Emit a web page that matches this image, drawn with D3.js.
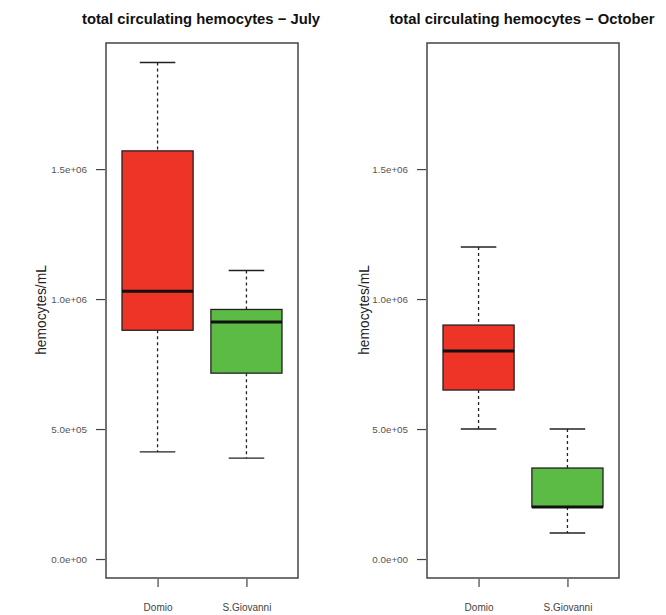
<!DOCTYPE html>
<html><head><meta charset="utf-8">
<script src="https://cdn.jsdelivr.net/npm/d3@7"></script>
<style>body{margin:0;background:#fff}svg{display:block}</style>
</head><body><svg id="c" width="666" height="615"></svg>
<script>
const categories = ["Domio", "S.Giovanni"];
const boxColors = ["#ee3427", "#5cbb44"];
// July
const julyMin = [4.12e5, 3.88e5];
const julyQ1 = [8.8e5, 7.15e5];
const julyMedian = [1.03e6, 9.12e5];
const julyQ3 = [1.57e6, 9.6e5];
const julyMax = [1.91e6, 1.11e6];
// October
const octMin = [5.0e5, 1.0e5];
const octQ1 = [6.5e5, 2.0e5];
const octMedian = [8.0e5, 2.0e5];
const octQ3 = [9.0e5, 3.5e5];
const octMax = [1.2e6, 5.0e5];

const yTicks = [0, 5e5, 1e6, 1.5e6];
const yTickLabels = ["0.0e+00", "5.0e+05", "1.0e+06", "1.5e+06"];
const titles = ["total circulating hemocytes \u2212 July", "total circulating hemocytes \u2212 October"];
const yTitle = "hemocytes/mL";

const svg = d3.select("#c");
const font = "'Liberation Sans', Arial, Helvetica, sans-serif";

const panels = [
  {left: 106, right: 298, titleX: 201, yTitleX: 46, title: titles[0],
   mn: julyMin, q1: julyQ1, md: julyMedian, q3: julyQ3, mx: julyMax},
  {left: 427, right: 619, titleX: 522, yTitleX: 369, title: titles[1],
   mn: octMin, q1: octQ1, md: octMedian, q3: octQ3, mx: octMax}
];
const plotTop = 43, plotBottom = 578;

panels.forEach(p => {
  const g = svg.append("g");
  const y = d3.scaleLinear().domain([-7.3e4, 1.985e6]).range([plotBottom, plotTop]);
  const x = d3.scaleLinear().domain([0.42, 2.58]).range([p.left, p.right]);
  const bw = (x(1.4) - x(1.0));

  g.append("text").attr("x", p.titleX).attr("y", 24).attr("text-anchor", "middle")
    .attr("font-family", font).attr("font-weight", "bold").attr("font-size", 14.8)
    .attr("fill", "#111").text(p.title);

  const ya = d3.axisLeft(y).tickValues(yTicks).tickSize(9).tickPadding(9)
    .tickFormat((d, i) => yTickLabels[i]);
  const yg = g.append("g").attr("transform", `translate(${p.left - 1},0)`).call(ya);
  yg.select(".domain").remove();
  yg.selectAll(".tick line").attr("stroke", "#444").attr("stroke-width", 1.2);
  yg.selectAll(".tick text").attr("font-family", font).attr("font-size", 9.8).attr("fill", "#555");

  const xa = d3.axisBottom(x).tickValues([1, 2]).tickSize(8).tickPadding(17)
    .tickFormat((d) => categories[d - 1]);
  const xg = g.append("g").attr("transform", `translate(0,${plotBottom + 1})`).call(xa);
  xg.select(".domain").remove();
  xg.selectAll(".tick line").attr("stroke", "#444").attr("stroke-width", 1.2);
  xg.selectAll(".tick text").attr("font-family", font).attr("font-size", 10).attr("fill", "#444");

  g.append("text").attr("transform", `translate(${p.yTitleX},310) rotate(-90)`)
    .attr("text-anchor", "middle").attr("font-family", font).attr("font-size", 13.8)
    .attr("fill", "#222").text(yTitle);

  categories.forEach((c, i) => {
    const cx = x(i + 1);
    const bg = g.append("g");
    bg.append("line").attr("x1", cx).attr("x2", cx).attr("y1", y(p.mx[i])).attr("y2", y(p.q3[i]))
      .attr("stroke", "#222").attr("stroke-width", 1.3).attr("stroke-dasharray", "3,3");
    bg.append("line").attr("x1", cx).attr("x2", cx).attr("y1", y(p.q1[i])).attr("y2", y(p.mn[i]))
      .attr("stroke", "#222").attr("stroke-width", 1.3).attr("stroke-dasharray", "3,3");
    [p.mx[i], p.mn[i]].forEach(v => {
      bg.append("line").attr("x1", cx - bw / 2).attr("x2", cx + bw / 2).attr("y1", y(v)).attr("y2", y(v))
        .attr("stroke", "#222").attr("stroke-width", 1.4);
    });
    bg.append("rect").attr("x", cx - bw).attr("width", 2 * bw)
      .attr("y", y(p.q3[i])).attr("height", y(p.q1[i]) - y(p.q3[i]))
      .attr("fill", boxColors[i]).attr("stroke", "#222").attr("stroke-width", 1.3);
    bg.append("line").attr("x1", cx - bw).attr("x2", cx + bw).attr("y1", y(p.md[i])).attr("y2", y(p.md[i]))
      .attr("stroke", "#111").attr("stroke-width", 3);
  });

  g.append("rect").attr("x", p.left).attr("y", plotTop).attr("width", p.right - p.left)
    .attr("height", plotBottom - plotTop).attr("fill", "none").attr("stroke", "#444").attr("stroke-width", 1.5);
});
</script></body></html>
